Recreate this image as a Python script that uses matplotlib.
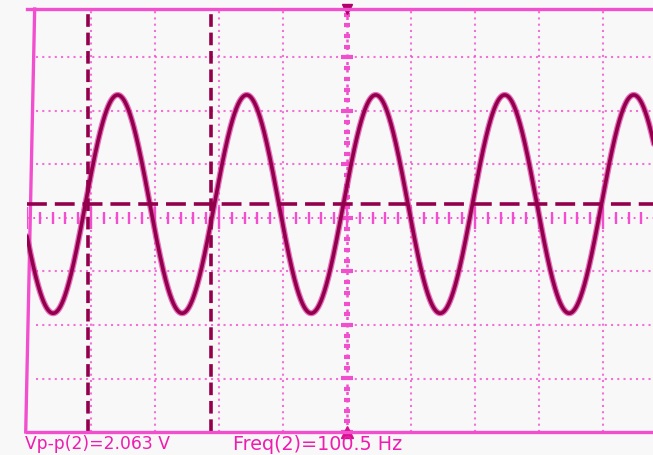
import numpy as np
import matplotlib
matplotlib.use("Agg")
import matplotlib.pyplot as plt

ms_per_div = 5.0          # horizontal scale
volt_per_div = 0.5        # vertical scale
amplitude_v = 1.02        # half of peak-to-peak seen on screen
offset_v = 0.13           # trace centre above graticule centre
period_ms = 10.08         # measured period on screen
phase_ms = -0.28          # an upward zero crossing
cursor_t_ms = [-20.2, -10.6]
cursor_v = 0.13
label_vpp = "Vp-p(2)=2.063 V"
label_freq = "Freq(2)=100.5 Hz"

W, H = 653, 455
fig = plt.figure(figsize=(W / 100, H / 100), dpi=100, facecolor="#f8f8f8")
left_px, right_px, top_px, bot_px = 27, 667, 9, 432
ax = fig.add_axes([left_px / W, (H - bot_px) / H, (right_px - left_px) / W, (bot_px - top_px) / H])
ax.set_facecolor("#f8f8f8")

xmin, xmax = -25.0, 25.0
ymin = -4 * volt_per_div
ymax = (218 - top_px) / 53.5 * volt_per_div
ax.set_xlim(xmin, xmax)
ax.set_ylim(ymin, ymax)
ax.set_xticks([]); ax.set_yticks([])

grid_col = "#f24fcf"
trace_col = "#92004c"
halo_col = "#e040a8"

for s in ["right", "top", "bottom"]:
    ax.spines[s].set_color(grid_col)
    ax.spines[s].set_linewidth(2.4)
ax.spines["left"].set_visible(False)
# slightly slanted left edge of the screen
ax.plot([xmin - 0.1, xmin + 0.6], [ymin, ymax], color=grid_col, lw=2.4, clip_on=False)

# graticule
for gx in np.arange(-20, 25, ms_per_div):
    if abs(gx) < 1e-9:
        continue
    ax.axvline(gx, color=grid_col, lw=1.5, ls=(0, (1, 2.0)), alpha=0.8)
for gy in np.arange(-3, 4) * volt_per_div:
    if abs(gy) < 1e-9:
        continue
    ax.plot([xmin + 0.7, xmax], [gy, gy], color=grid_col, lw=1.5, ls=(0, (1, 2.0)), alpha=0.8)

# centre axes with minor ticks
minor_x = np.arange(xmin, xmax + 0.01, ms_per_div / 5)
ax.axhline(0, color=grid_col, lw=1.3, ls=(0, (1, 2.5)))
for i, mx in enumerate(minor_x):
    h = 0.055 if i % 5 else 0.1
    ax.plot([mx, mx], [-h, h], color=grid_col, lw=1.7, solid_capstyle="butt")
minor_y = np.arange(ymin, ymax + 0.01, volt_per_div / 5)
ax.axvline(0, color=grid_col, lw=1.8, ls=(0, (1.2, 1.8)))
for i, my in enumerate(minor_y):
    w = 0.22 if i % 5 else 0.45
    ax.plot([-w, w], [my, my], color=grid_col, lw=3.0, solid_capstyle="butt")

# trigger markers
ax.plot([0], [ymin], marker="^", color="#d8108f", ms=8, clip_on=False)
ax.plot([0], [ymax], marker="v", color="#b0006a", ms=7, clip_on=False)

# trace
t = np.linspace(xmin, xmax, 2000)
v = offset_v + amplitude_v * np.sin(2 * np.pi * (t - phase_ms) / period_ms)
ax.plot(t, v, color=halo_col, lw=4.4, alpha=0.75, solid_capstyle="round")
ax.plot(t, v, color=trace_col, lw=2.6, solid_capstyle="round")

# cursors
for ct in cursor_t_ms:
    ax.axvline(ct, color=trace_col, lw=2.6, ls=(0, (3.5, 1.6)))
ax.axhline(cursor_v, color=trace_col, lw=2.6, ls=(0, (5.5, 2.2)))

# readouts
txt_col = "#ee1cb0"
fig.text(25 / W, 1 - 444 / H, label_vpp, color=txt_col, fontsize=12.3,
         family="DejaVu Sans", va="center", ha="left")
fig.text(233 / W, 1 - 444 / H, label_freq, color=txt_col, fontsize=13.8,
         family="DejaVu Sans", va="center", ha="left")

fig.savefig("out.png", dpi=100, facecolor=fig.get_facecolor())
